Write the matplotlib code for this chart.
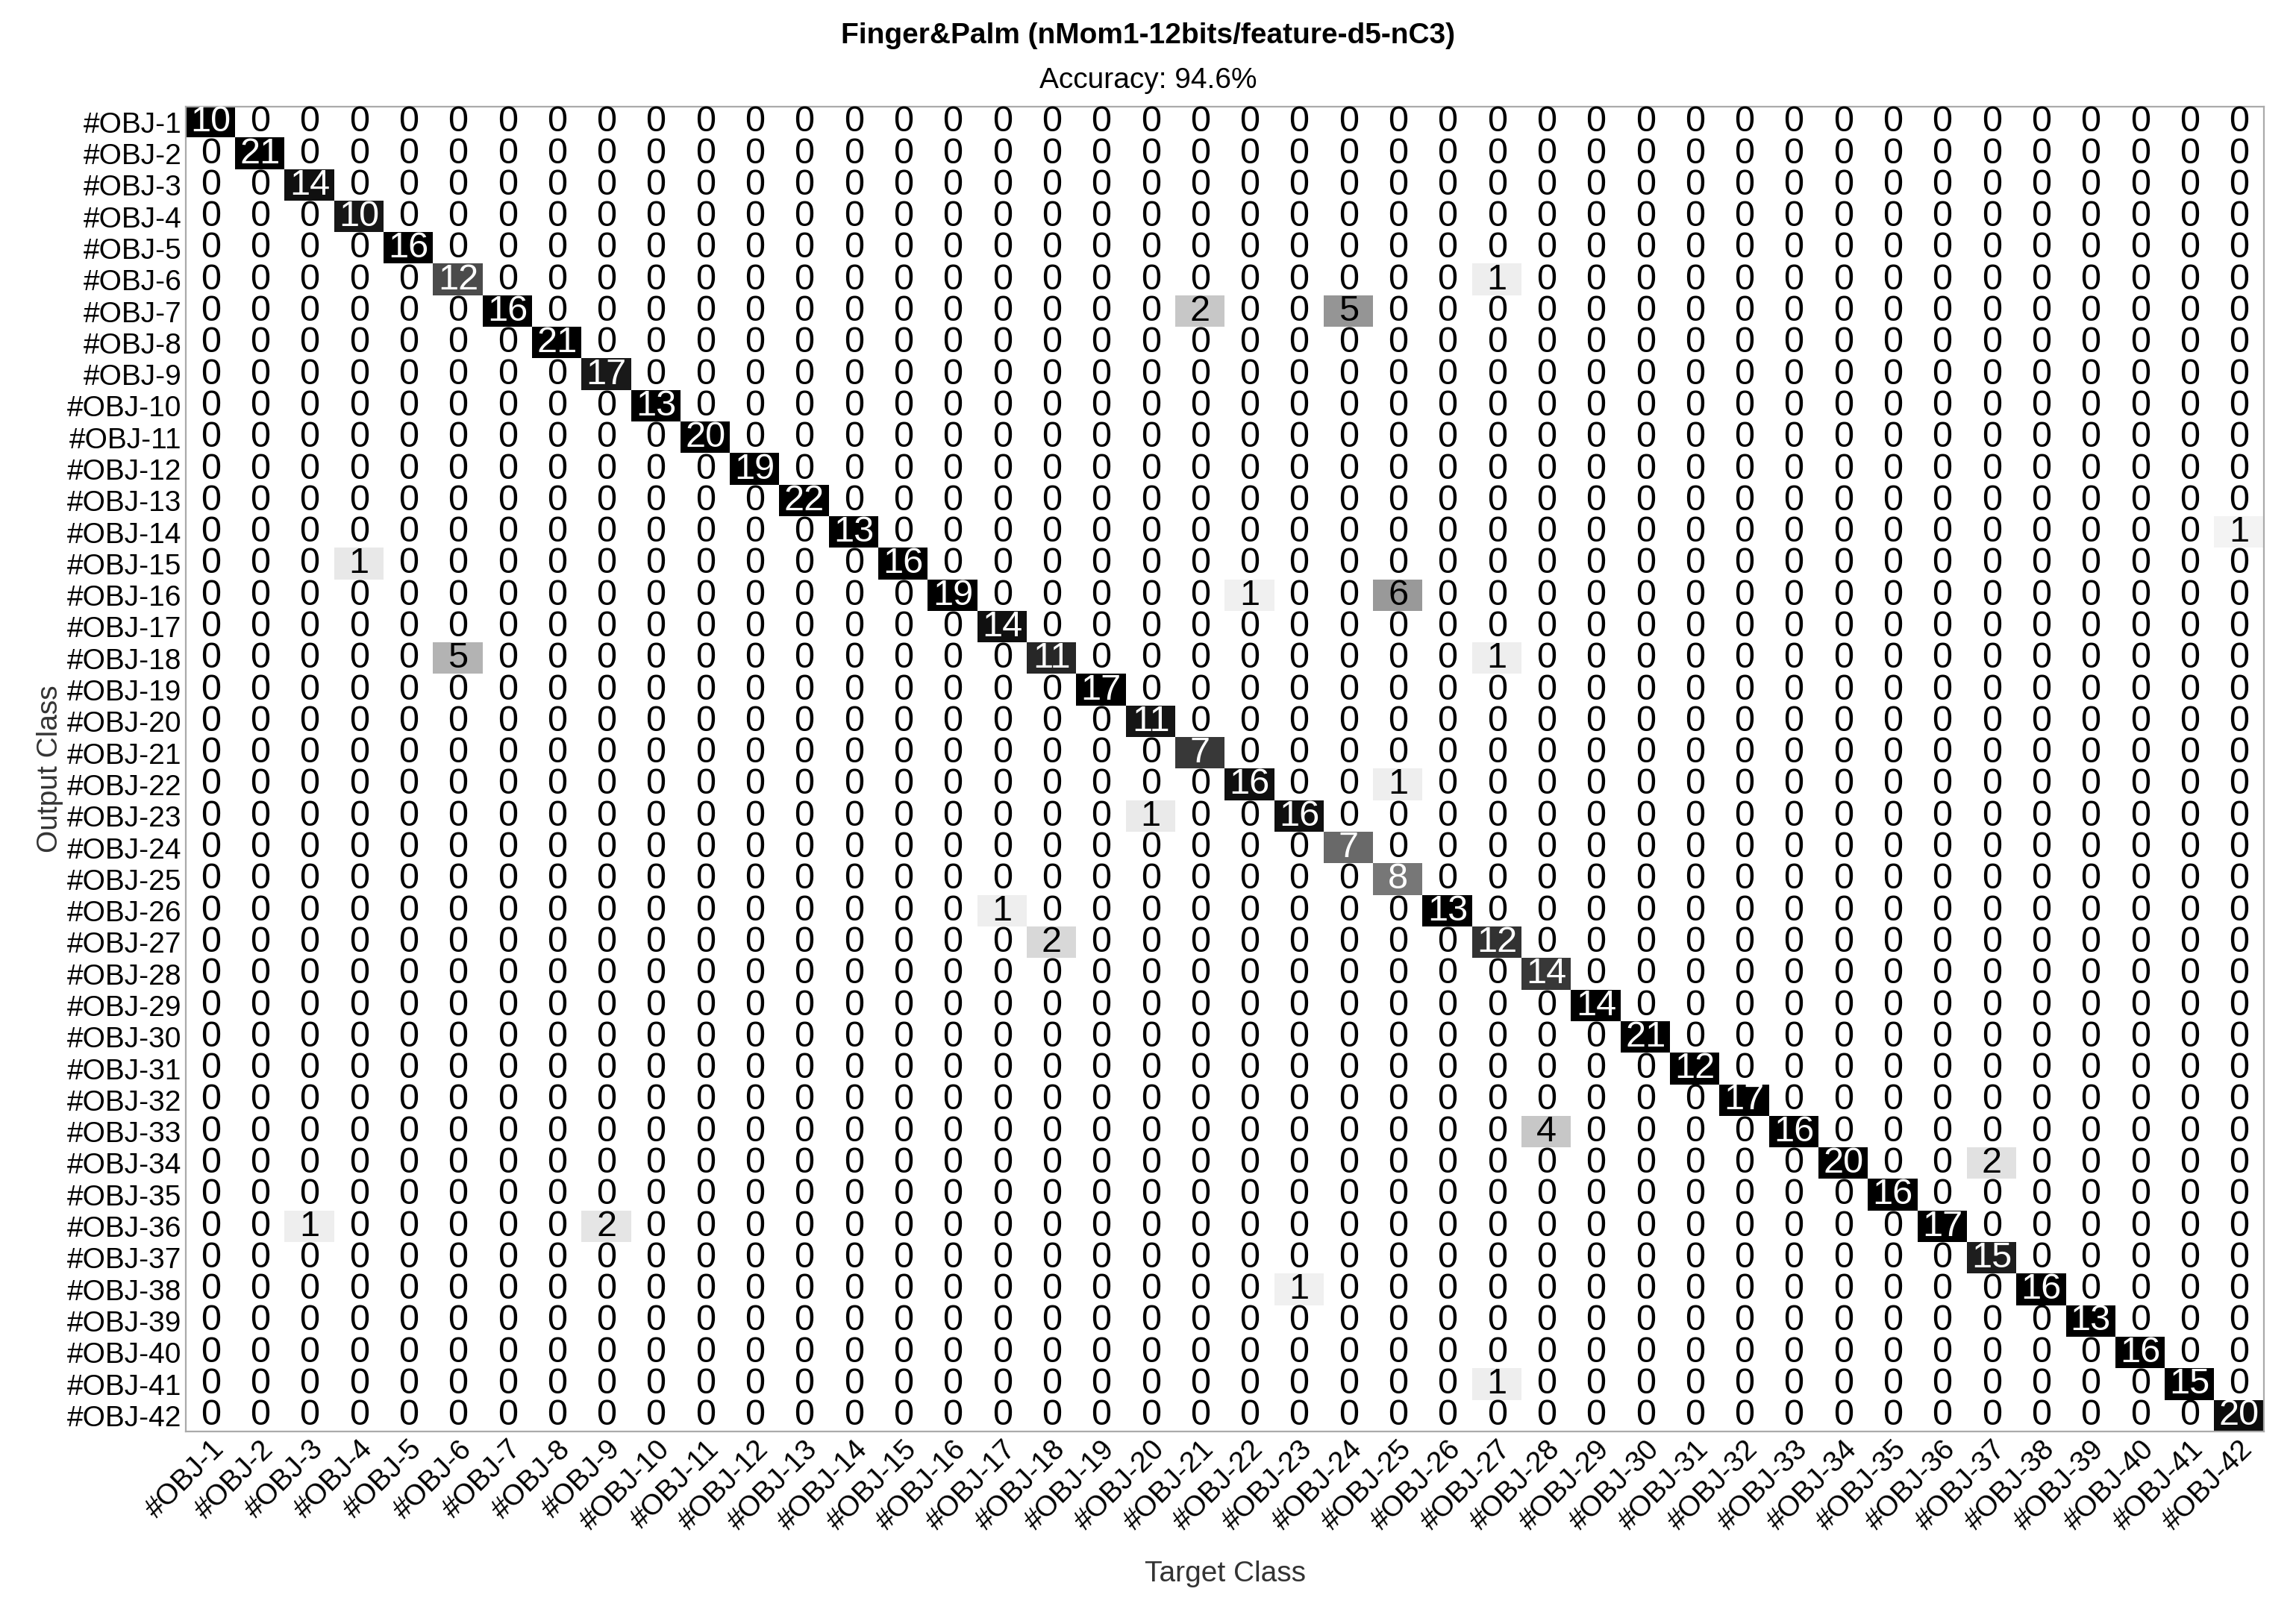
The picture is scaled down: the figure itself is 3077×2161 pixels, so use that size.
import numpy as np
import matplotlib
matplotlib.use("Agg")
import matplotlib.pyplot as plt

plt.rcParams['font.family'] = ['Liberation Sans', 'DejaVu Sans']

n = 42
labels = [f"#OBJ-{i}" for i in range(1, n + 1)]
diag = [10,21,14,10,16,12,16,21,17,13,20,19,22,13,16,19,14,11,17,11,7,16,16,7,8,13,12,14,14,21,12,17,16,20,16,17,15,16,13,16,15,20]
# (row, col, value), 1-based
off_rows = [6, 7, 7, 14, 15, 16, 16, 18, 18, 22, 23, 26, 27, 33, 34, 36, 36, 38, 41]
off_cols = [27, 21, 24, 42, 4, 22, 25, 6, 27, 25, 20, 17, 18, 28, 37, 3, 9, 23, 27]
off_vals = [1, 2, 5, 1, 1, 1, 6, 5, 1, 1, 1, 1, 2, 4, 2, 1, 2, 1, 1]
title = "Finger&Palm (nMom1-12bits/feature-d5-nC3)"
accuracy_text = "Accuracy: 94.6%"

M = np.zeros((n, n), dtype=int)
for i, v in enumerate(diag):
    M[i, i] = v
for r, c, v in zip(off_rows, off_cols, off_vals):
    M[r - 1, c - 1] = v

colsum = M.sum(axis=0)
frac = M / np.where(colsum == 0, 1, colsum)

fig = plt.figure(figsize=(15.385, 10.805), dpi=200)
ax = fig.add_axes([0.081, 0.112, 0.905, 0.822])
ax.imshow(frac, cmap="gray_r", vmin=0, vmax=1, aspect="auto", interpolation="nearest")
for i in range(n):
    for j in range(n):
        ax.text(j, i, str(M[i, j]), ha="center", va="center", fontsize=17.5,
                color="white" if frac[i, j] > 0.5 else "black")
ax.set_xticks(range(n))
ax.set_yticks(range(n))
ax.set_xticklabels(labels, rotation=45, ha="right", rotation_mode="anchor", fontsize=14)
ax.set_yticklabels(labels, fontsize=14)
ax.tick_params(length=0, pad=2)
for s in ax.spines.values():
    s.set_color("#aaaaaa")
ax.set_xlabel("Target Class", fontsize=14, color="#333333", labelpad=12)
ax.set_ylabel("Output Class", fontsize=14, color="#333333", labelpad=2)
fig.text(0.5, 0.978, title, ha="center", va="center", fontsize=14, fontweight="bold")
fig.text(0.5, 0.950, accuracy_text, ha="center", va="center", fontsize=14)
fig.savefig("out.png", dpi=200)
